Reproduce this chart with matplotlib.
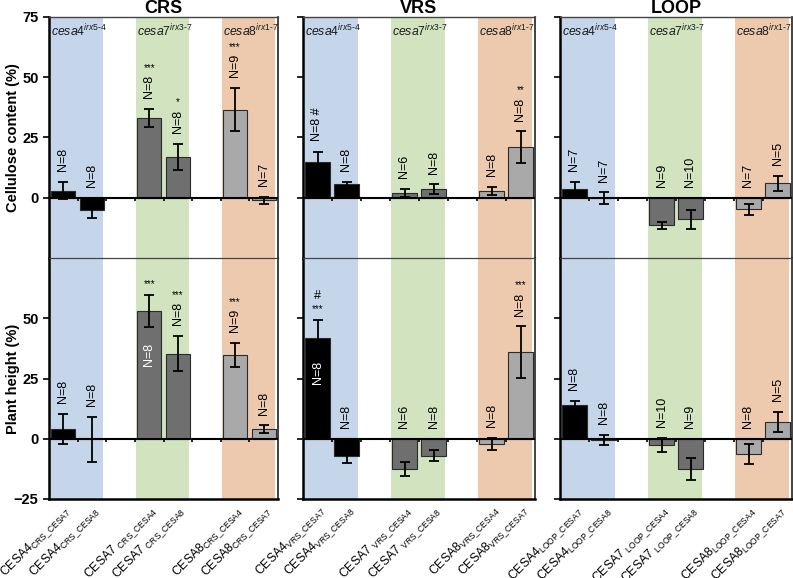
import numpy as np
import matplotlib
matplotlib.use("Agg")
import matplotlib.pyplot as plt

plt.rcParams['font.family'] = ['Liberation Sans', 'DejaVu Sans']
plt.rcParams['mathtext.fontset'] = 'custom'
plt.rcParams['mathtext.rm'] = 'Liberation Sans'
plt.rcParams['mathtext.it'] = 'Liberation Sans:italic'
plt.rcParams['mathtext.bf'] = 'Liberation Sans:bold'

# --- data ---
groups = ['CRS', 'VRS', 'LOOP']
slots = [0, 1, 3, 4, 6, 7]          # category slots holding bars (2 and 5 are empty)
partners = ['CESA7', 'CESA8', 'CESA4', 'CESA8', 'CESA4', 'CESA7']
owners = ['CESA4', 'CESA4', 'CESA7', 'CESA7', 'CESA8', 'CESA8']
band_labels = ['cesa4', 'cesa7', 'cesa8']
band_sup = [('irx5', '4'), ('irx3', '7'), ('irx1', '7')]

cell_val = {'CRS': [3, -5, 33, 17, 36.5, -1],
            'VRS': [15, 5.5, 2, 3.5, 2.8, 21],
            'LOOP': [3.5, -0.3, -11.5, -9, -4.8, 6]}
cell_err = {'CRS': [3.5, 3.5, 3.7, 5.5, 9, 1.5],
            'VRS': [4, 1, 1.5, 2, 1.8, 6.5],
            'LOOP': [3, 2.5, 1.5, 4, 2.2, 3]}
cell_n = {'CRS': [8, 8, 8, 8, 9, 7],
          'VRS': [8, 8, 6, 8, 8, 8],
          'LOOP': [7, 7, 9, 10, 7, 5]}
cell_star = {'CRS': ['', '', '***', '*', '***', ''],
             'VRS': ['', '', '', '', '', '**'],
             'LOOP': ['', '', '', '', '', '']}
cell_hash = {'CRS': [''] * 6, 'VRS': ['#', '', '', '', '', ''], 'LOOP': [''] * 6}

height_val = {'CRS': [4, -0.2, 53, 35.3, 34.7, 4],
              'VRS': [42, -7, -12.5, -7, -2, 36],
              'LOOP': [13.8, -0.5, -2.5, -12.5, -6.2, 7]}
height_err = {'CRS': [6.3, 9.3, 6.7, 7.3, 5, 1.5],
              'VRS': [7.3, 3, 3, 2.3, 2.5, 10.6],
              'LOOP': [1.8, 2, 3, 4.6, 4.2, 4]}
height_n = {'CRS': [8, 8, 8, 8, 9, 8],
            'VRS': [8, 8, 6, 8, 8, 8],
            'LOOP': [8, 8, 10, 9, 8, 5]}
height_star = {'CRS': ['', '', '***', '***', '***', ''],
               'VRS': ['***', '', '', '', '', '***'],
               'LOOP': [''] * 6}
height_hash = {'CRS': [''] * 6, 'VRS': ['#', '', '', '', '', ''], 'LOOP': [''] * 6}
height_inside = {'CRS': [False, False, True, False, False, False],
                 'VRS': [True, False, False, False, False, False],
                 'LOOP': [False] * 6}

bar_colors = ['#000000', '#000000', '#6f6f6f', '#6f6f6f', '#a9a9a9', '#a9a9a9']
band_colors = ['#c5d6eb', '#d2e3bf', '#edcaad']

fig = plt.figure(figsize=(7.93, 5.78), dpi=100)
lefts = [49, 303, 560]
widths = [229, 232, 232]
W, H = 793.0, 578.0
row_bottoms = [(H - 258) / H, (H - 499) / H]
row_h = 241 / H


def draw_panel(ax, g, vals, errs, ns, stars, hashes, inside, top_row):
    ax.set_xlim(-0.5, 7.5)
    ax.set_ylim(-25, 75)
    for k, start in enumerate([0, 3, 6]):
        ax.axvspan(start - 0.45, start + 1.38, color=band_colors[k], lw=0, zorder=0)
        if top_row:
            a, b = band_sup[k]
            ax.text(start - 0.43, 72.5,
                    r'$\mathit{%s}^{\mathit{%s}\text{-}\mathit{%s}}$' % (band_labels[k], a, b),
                    fontsize=8.8, ha='left', va='top', color='#1a1a1a', zorder=3)
    ax.bar(slots, vals, width=0.84, color=bar_colors, edgecolor='#2b2b2b',
           linewidth=0.8, zorder=2)
    ax.errorbar(slots, vals, yerr=errs, fmt='none', ecolor='black',
                elinewidth=1.3, capsize=3.5, capthick=1.3, zorder=3)
    ax.axhline(0, color='black', lw=1.5, zorder=4)
    ax.vlines(np.arange(0.5, 7.0, 1.0), -1.4, 0, color='black', lw=1.2, zorder=4)
    for i, x in enumerate(slots):
        top = max(vals[i] + errs[i], 0)
        label = 'N=%d' % ns[i]
        if inside[i]:
            ax.text(x, vals[i] * 0.66, label, rotation=90, ha='center', va='center',
                    fontsize=9, color='white', zorder=5)
            ystar = top + 2.5
            if stars[i]:
                ax.text(x, ystar, stars[i], ha='center', va='bottom', fontsize=7, zorder=5)
                ystar += 5
            if hashes[i]:
                ax.text(x, ystar, hashes[i], ha='center', va='bottom', fontsize=9, zorder=5)
            continue
        ylab = top + 4.5
        if hashes[i]:
            label = label + ' ' + hashes[i]
        ax.text(x, ylab, label, rotation=90, ha='center', va='bottom',
                fontsize=9, zorder=5)
        if stars[i]:
            ax.text(x, ylab + 10.5, stars[i], ha='center', va='bottom',
                    fontsize=7, zorder=5)
    for s in ['left', 'right', 'top', 'bottom']:
        ax.spines[s].set_color('#222222')
    ax.spines['left'].set_linewidth(1.8)
    ax.spines['left'].set_color('black')
    ax.spines['right'].set_linewidth(1.2)
    if top_row:
        ax.spines['bottom'].set_visible(False)
        ax.spines['top'].set_linewidth(1.0)
        ax.spines['top'].set_color('#444444')
        ax.set_yticks([0, 25, 50, 75])
        ax.set_xticks([])
        ax.set_title(g, fontsize=13, fontweight='bold', pad=1)
    else:
        ax.spines['top'].set_linewidth(0.9)
        ax.spines['top'].set_color('#444444')
        ax.spines['bottom'].set_linewidth(1.8)
        ax.spines['bottom'].set_color('black')
        ax.set_yticks([-25, 0, 25, 50])
        ax.set_xticks(slots)
        labels = []
        for o, p in zip(owners, partners):
            gap = ' ' if o == 'CESA7' else ''
            labels.append(r'%s%s$_{\mathregular{%s\_%s}}$' % (o, gap, g, p))
        ax.set_xticklabels(labels, rotation=45, ha='right', rotation_mode='anchor',
                           fontsize=8.8)
        ax.tick_params(axis='x', length=0, pad=3)
    ax.tick_params(axis='y', direction='out', length=4, width=1.2, labelsize=10.5)
    for lab in ax.get_yticklabels():
        lab.set_fontweight('bold')


for c, g in enumerate(groups):
    ax_top = fig.add_axes([lefts[c] / W, row_bottoms[0], widths[c] / W, row_h])
    ax_bot = fig.add_axes([lefts[c] / W, row_bottoms[1], widths[c] / W, row_h])
    draw_panel(ax_top, g, cell_val[g], cell_err[g], cell_n[g], cell_star[g],
               cell_hash[g], [False] * 6, True)
    draw_panel(ax_bot, g, height_val[g], height_err[g], height_n[g], height_star[g],
               height_hash[g], height_inside[g], False)
    if c == 0:
        ax_top.set_ylabel('Cellulose content (%)', fontsize=10.5, fontweight='bold')
        ax_bot.set_ylabel('Plant height (%)', fontsize=10.5, fontweight='bold')
        ax_top.yaxis.set_label_coords(-0.125, 0.5)
        ax_bot.yaxis.set_label_coords(-0.125, 0.5)
    else:
        ax_top.set_yticklabels([])
        ax_bot.set_yticklabels([])

fig.savefig('out.png', dpi=100)
